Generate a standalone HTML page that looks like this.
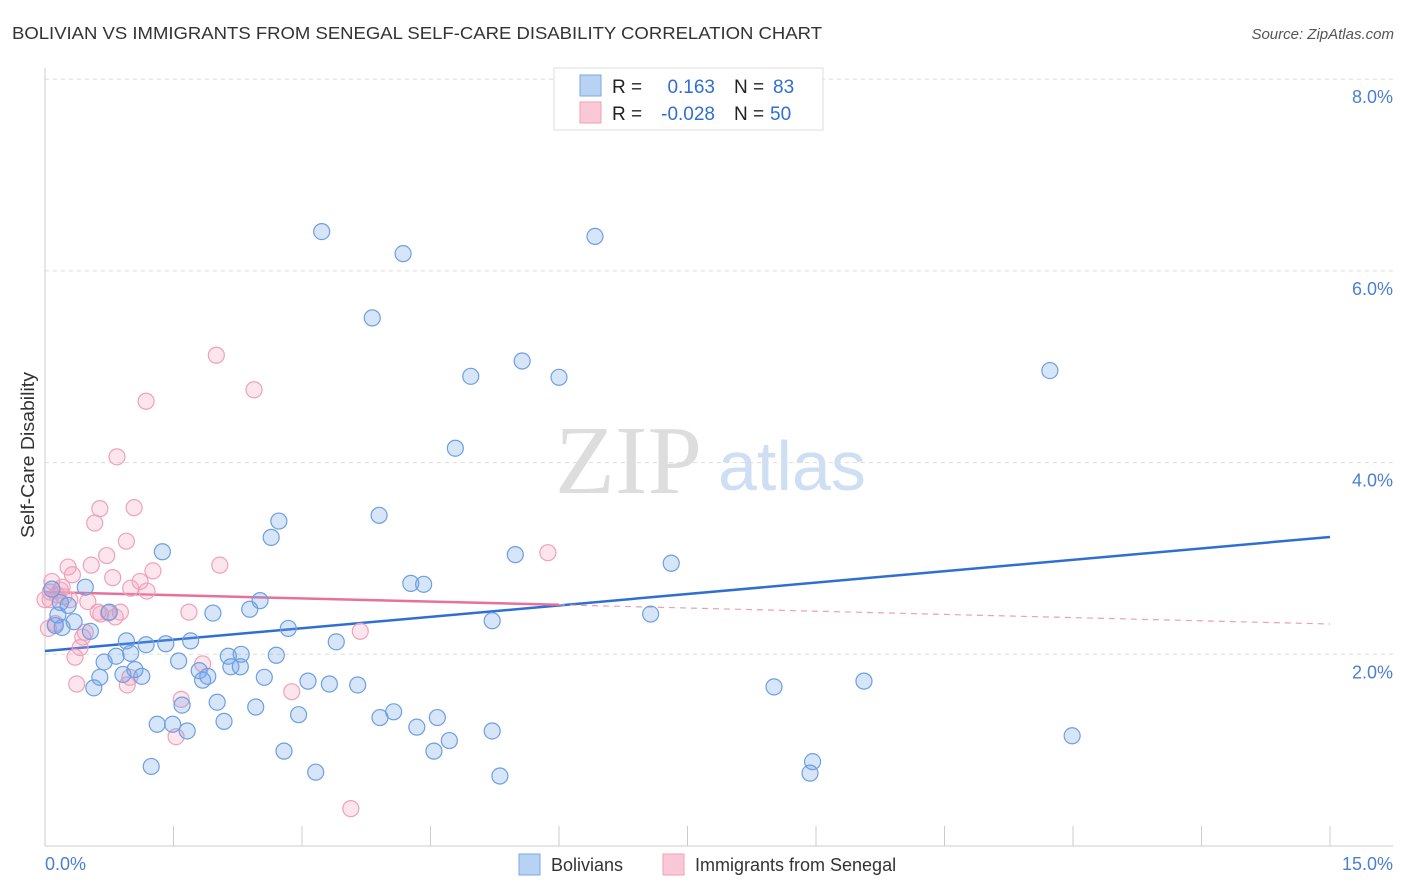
<!DOCTYPE html>
<html><head><meta charset="utf-8"><style>
body{margin:0;background:#fff;font-family:"Liberation Sans",sans-serif;}
svg{display:block}
</style></head><body>
<svg id="chart" width="1406" height="892">
<text x="12" y="39" font-size="17.5" fill="#333" textLength="810" lengthAdjust="spacingAndGlyphs">BOLIVIAN VS IMMIGRANTS FROM SENEGAL SELF-CARE DISABILITY CORRELATION CHART</text>
<text x="1394" y="39" font-size="15" fill="#555" font-style="italic" text-anchor="end">Source: ZipAtlas.com</text>
<g>
<text x="555" y="493" font-size="98" fill="#ddd" font-family="Liberation Serif,serif">ZIP</text>
<text x="718" y="490" font-size="70" fill="#cfdff3">atlas</text>
</g>
<g id="grid"></g>
<g id="axes"></g>
<g id="trends"></g>
<g id="points"></g>
<text transform="translate(34,455) rotate(-90)" font-size="18" fill="#333" text-anchor="middle" textLength="166" lengthAdjust="spacingAndGlyphs">Self-Care Disability</text>
<g>
<rect x="554" y="68" width="269" height="62" fill="#fff" stroke="#ddd"/>
<rect x="580" y="75" width="21" height="21" fill="#b8d2f4" stroke="#7aa8e6"/>
<rect x="580" y="102" width="21" height="21" fill="#fbc8d8" stroke="#f0a0b8"/>
<text x="612" y="93" font-size="19" fill="#222">R =</text>
<text x="715" y="93" font-size="19" fill="#2f6fd4" text-anchor="end">0.163</text>
<text x="734" y="93" font-size="19" fill="#222">N =</text>
<text x="773" y="93" font-size="19" fill="#2f6fd4">83</text>
<text x="612" y="120" font-size="19" fill="#222">R =</text>
<text x="715" y="120" font-size="19" fill="#2f6fd4" text-anchor="end">-0.028</text>
<text x="734" y="120" font-size="19" fill="#222">N =</text>
<text x="770" y="120" font-size="19" fill="#2f6fd4">50</text>
</g>
<g>
<rect x="519" y="854" width="21" height="21" fill="#b8d2f4" stroke="#7aa8e6"/>
<text x="551" y="871" font-size="18" fill="#333">Bolivians</text>
<rect x="663" y="854" width="21" height="21" fill="#fbc8d8" stroke="#f0a0b8"/>
<text x="695" y="871" font-size="18" fill="#333">Immigrants from Senegal</text>
</g>
</svg>
<script>
const blueX=[3.23,4.18,6.42,3.82,5.57,4.97,6.00,11.73,4.79,3.90,2.73,2.64,1.37,5.49,7.31,4.27,4.42,0.47,0.08,0.18,0.27,0.75,2.51,2.39,1.96,7.07,5.22,0.15,0.34,0.20,0.53,0.12,2.84,0.95,1.41,1.18,1.70,3.40,1.00,0.83,2.29,2.14,2.70,0.69,1.56,2.17,2.28,1.05,0.91,1.13,1.80,1.90,1.84,2.56,0.64,0.57,3.07,3.32,3.65,8.51,9.56,2.01,1.60,2.46,2.96,4.07,3.91,4.58,1.31,1.49,2.09,1.66,4.34,5.22,4.72,4.54,2.79,11.99,1.24,3.16,5.31,8.96,8.93];
const blueY=[6.41,6.18,6.36,5.51,5.06,4.90,4.89,4.96,4.15,3.45,3.39,3.22,3.07,3.04,2.95,2.74,2.73,2.70,2.68,2.54,2.51,2.44,2.56,2.47,2.43,2.42,2.35,2.41,2.34,2.28,2.24,2.30,2.27,2.14,2.11,2.10,2.14,2.13,2.01,1.98,2.00,1.98,1.99,1.92,1.93,1.87,1.87,1.84,1.79,1.77,1.83,1.77,1.73,1.76,1.76,1.65,1.72,1.69,1.68,1.66,1.72,1.50,1.47,1.45,1.37,1.40,1.34,1.34,1.27,1.27,1.30,1.20,1.24,1.20,1.10,0.99,0.99,1.15,0.83,0.77,0.73,0.88,0.76];
const pinkX=[2.00,2.44,1.18,0.84,0.64,1.04,0.58,0.95,5.87,0.27,0.72,0.54,2.04,0.32,1.26,0.79,0.08,1.11,0.20,1.00,1.19,0.06,0.14,0.50,0.22,1.68,0.74,0.65,0.82,0.12,0.47,0.44,3.68,0.04,0.41,0.35,1.84,0.99,0.96,0.37,2.88,1.59,1.53,3.57,0.06,0.18,0.62,0.29,0.88,0.00];
const pinkY=[5.12,4.76,4.64,4.06,3.52,3.53,3.37,3.18,3.06,2.91,3.03,2.93,2.93,2.83,2.87,2.80,2.76,2.76,2.70,2.69,2.66,2.65,2.62,2.55,2.60,2.44,2.43,2.42,2.39,2.32,2.23,2.18,2.24,2.27,2.07,1.97,1.90,1.76,1.68,1.69,1.61,1.53,1.14,0.39,2.57,2.67,2.44,2.57,2.44,2.57];
const yTicks=[2,4,6,8];
const blueTrend=[2.034,3.224];
const pinkTrend=[2.65,2.316];
const xMax=15;
const NS="http://www.w3.org/2000/svg";
const X=v=>45+v*(1285/15), Y=v=>846-v*95.85;
function mk(tag,attrs,parent){const e=document.createElementNS(NS,tag);for(const k in attrs)e.setAttribute(k,attrs[k]);parent.appendChild(e);return e;}
const grid=document.getElementById('grid'),axes=document.getElementById('axes'),tr=document.getElementById('trends'),pts=document.getElementById('points');
yTicks.forEach(t=>{
 const l=mk('line',{x1:45,x2:1393,y1:Y(t),y2:Y(t),stroke:'#ddd','stroke-dasharray':'4,4'},grid);
 
 
 const tx=mk('text',{x:1393,y:Y(t)+24,'font-size':18,fill:'#4a7fd4','text-anchor':'end'},axes);
 tx.textContent=t.toFixed(1)+'%';
 
 
});
const ya=mk('line',{x1:45,x2:45,y1:68,y2:846,stroke:'#ccc'},axes);


const xa=mk('line',{x1:45,x2:1393,y1:846,y2:846,stroke:'#ccc'},axes);


for(let i=0;i<=10;i++){const v=i*1.5;const t=mk('line',{x1:X(v),x2:X(v),y1:826,y2:846,stroke:'#ccc'},axes);
 
 }
const x0=mk('text',{x:45,y:870,'font-size':18,fill:'#4a7fd4'},axes);x0.textContent='0.0%';


const x1=mk('text',{x:1393,y:870,'font-size':18,fill:'#4a7fd4','text-anchor':'end'},axes);x1.textContent='15.0%';


function dot(x,y,fill,stroke,name){const c=mk('circle',{cx:X(x),cy:Y(y),r:8,fill:fill,stroke:stroke,'stroke-width':1.2},pts);
 
 }
pinkX.forEach((x,i)=>dot(x,pinkY[i],'rgba(244,160,190,0.28)','#eea2ba','senegal-point'));
blueX.forEach((x,i)=>dot(x,blueY[i],'rgba(110,160,232,0.28)','#6c9fe2','bolivian-point'));
const bl=mk('line',{x1:X(0),y1:Y(blueTrend[0]),x2:X(xMax),y2:Y(blueTrend[1]),stroke:'#2f6fd4','stroke-width':2.5},tr);


const pm=(v)=>pinkTrend[0]+(pinkTrend[1]-pinkTrend[0])*v/xMax;
const ps=mk('line',{x1:X(0),y1:Y(pinkTrend[0]),x2:X(6),y2:Y(pm(6)),stroke:'#e8709a','stroke-width':2.5},tr);


const pd=mk('line',{x1:X(6),y1:Y(pm(6)),x2:X(xMax),y2:Y(pinkTrend[1]),stroke:'#e8a0b8','stroke-width':1.2,'stroke-dasharray':'6,5'},tr);


</script>
</body></html>
